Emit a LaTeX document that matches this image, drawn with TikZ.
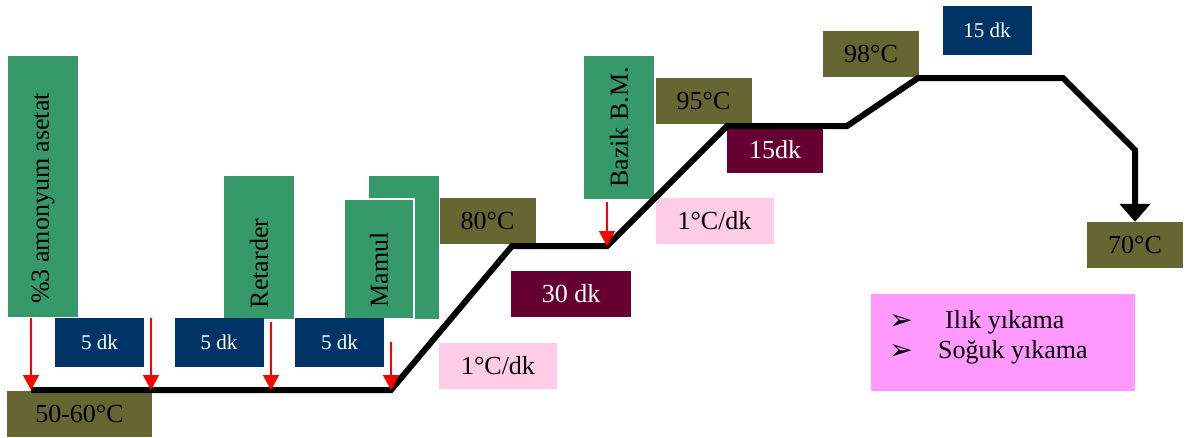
\documentclass[tikz,border=0pt]{standalone}
\usepackage{fontspec}
\setmainfont{Liberation Serif}
\newfontfamily\symfont{DejaVu Sans}
\usetikzlibrary{arrows.meta}

\definecolor{tempolive}{HTML}{666633}
\definecolor{addgreen}{HTML}{35996A}
\definecolor{timenavy}{HTML}{003366}
\definecolor{holdmaroon}{HTML}{660033}
\definecolor{ratepink}{HTML}{FFCCE6}
\definecolor{washpink}{HTML}{FF99FF}

\tikzset{
  box/.style={rectangle, inner sep=0pt, font=\fontsize{26}{30}\selectfont},
  temp/.style={box, fill=tempolive, minimum width=96pt, minimum height=46pt},
  add/.style={box, fill=addgreen, rotate=90, minimum height=70pt},
  wait/.style={box, fill=timenavy, text=white, minimum width=89pt, minimum height=49pt,
    font=\fontsize{21}{25}\selectfont},
  hold/.style={box, fill=holdmaroon, text=white, minimum height=46pt},
  rate/.style={box, fill=ratepink, minimum width=118pt, minimum height=46pt},
  profile/.style={line width=6pt},
  feed/.style={red, line width=1.5pt, -{Triangle[width=16pt,length=15pt]}},
  tick/.style={font=\symfont\fontsize{28}{30}\selectfont, inner sep=0pt}
}

\begin{document}
\begin{tikzpicture}[x=1pt,y=-1pt]
        \useasboundingbox (0,0) rectangle (1187,437);

        \node[add, minimum width=261pt] (aset) at (43,186.5) {\%3 amonyum asetat\hspace*{24pt}};
        \node[add, minimum width=143pt] (ret) at (259,247.5) {Retarder\hspace*{32pt}};
        \node[add, minimum width=143pt] (mamulb) at (403.5,247.5) {};
        \node[add, minimum width=120pt, draw=white, line width=1.5pt] (mamul) at (379,259) {Mamul\hspace*{22pt}};
        \node[add, minimum width=143pt] (bazik) at (619,127.5) {Bazik B.M.};

        \node[wait] (w1) at (99.5,342.5) {5 dk};
        \node[wait] (w2) at (219,342.5) {5 dk};
        \node[wait] (w3) at (339.5,342.5) {5 dk};
        \node[wait] (w4) at (987,30.5) {15 dk};

        \node[temp, minimum width=145pt] (t5060) at (79.5,414) {50-60°C};
        \node[temp] (t80) at (487.5,221) {80°C};
        \node[temp] (t95) at (703.5,101) {95°C};
        \node[temp] (t98) at (871,53.5) {98°C};
        \node[temp] (t70) at (1135,245) {70°C};

        \node[hold, minimum width=120pt] (h30) at (571,293.5) {30 dk};
        \node[hold, minimum width=96pt] (h15) at (775,150) {15dk};

        \node[rate] (r1) at (498,366) {1°C/dk};
        \node[rate] (r2) at (714.5,221) {1°C/dk};

        \node[box, fill=washpink, minimum width=264pt, minimum height=97pt] (wash) at (1003,342.5) {};
        \node[tick] (b1) at (901,322) {➢};
        \node[tick] (b2) at (901,352) {➢};
        \node[box, anchor=west] (ilik) at (945,322) {Ilık yıkama};
        \node[box, anchor=west] (soguk) at (938,352) {Soğuk yıkama};

        \coordinate (p0) at (31,390);
        \coordinate (p1) at (391,390);
        \coordinate (p2) at (512,246);
        \coordinate (p3) at (607,246);
        \coordinate (p4) at (727,126);
        \coordinate (p5) at (847,126);
        \coordinate (p6) at (918,78);
        \coordinate (p7) at (1063,78);
        \coordinate (p8) at (1135,150);
        \draw[profile, -{Triangle[width=30pt,length=18pt]}] (p0) -- (p1) -- (p2) -- (p3) -- (p4)
          -- (p5) -- (p6) -- (p7) -- (p8) -- (t70.north);

        \coordinate (s1) at (31,318);
        \coordinate (s2) at (151,318);
        \coordinate (s3) at (271,322);
        \coordinate (s4) at (391,342);
        \coordinate (s5) at (607,202);
        \coordinate (q2) at (151,390);
        \coordinate (q3) at (271,390);
        \draw[feed] (s1) -- (p0);
        \draw[feed] (s2) -- (q2);
        \draw[feed] (s3) -- (q3);
        \draw[feed] (s4) -- (p1);
        \draw[feed] (s5) -- (p3);
\end{tikzpicture}
\end{document}
